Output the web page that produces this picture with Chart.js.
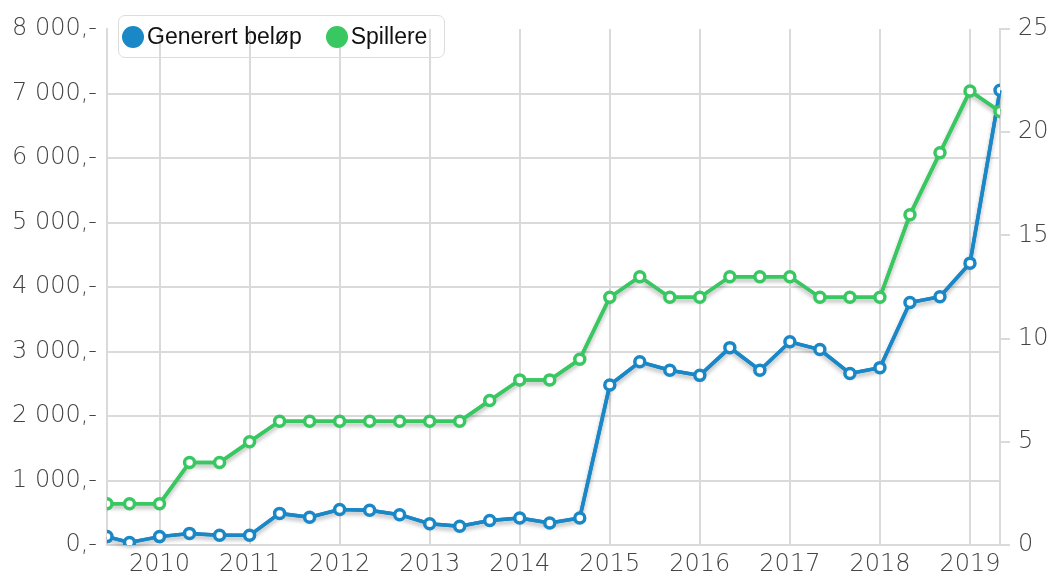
<!DOCTYPE html>
<html>
<head>
<meta charset="utf-8">
<script src="https://cdn.jsdelivr.net/npm/chart.js@4.4.1/dist/chart.umd.min.js"></script>
<style>
  body { margin: 0; background: #fff; }
  #wrap { position: relative; width: 1053px; height: 578px; }
  #legend {
    position: absolute; left: 118px; top: 15px; width: 322px; height: 41px;
    border: 1.5px solid #dcdcdc; border-radius: 7px;
    display: flex; align-items: center; padding-left: 3px; white-space: nowrap;
    font-family: "Liberation Sans", Arial, sans-serif; font-size: 23px; color: #111;
  }
  #legend .item { display: flex; align-items: center; margin-right: 24px; }
  #legend .dot { width: 22px; height: 22px; border-radius: 50%; margin-right: 3px; flex: none; }
</style>
</head>
<body>
<div id="wrap">
  <canvas id="chart" width="1053" height="578"></canvas>
  <div id="legend"></div>
</div>
<script>
// periods (year-month) of each data point
const periods = ['2009-06', '2009-09',
  '2010-01', '2010-05', '2010-09', '2011-01', '2011-05', '2011-09',
  '2012-01', '2012-05', '2012-09', '2013-01', '2013-05', '2013-09',
  '2014-01', '2014-05', '2014-09', '2015-01', '2015-05', '2015-09',
  '2016-01', '2016-05', '2016-09', '2017-01', '2017-05', '2017-09',
  '2018-01', '2018-05', '2018-09', '2019-01', '2019-05'];

// Generert beløp (left axis, kr)
const generert = [130, 40, 130, 180, 150, 150, 490, 430, 550, 540, 470, 330, 290, 380, 420, 340, 420,
  2480, 2840, 2710, 2630, 3060, 2710, 3150, 3030, 2660, 2750, 3760, 3850, 4370, 7050];

// Spillere (right axis)
const spillere = [2, 2, 2, 4, 4, 5, 6, 6, 6, 6, 6, 6, 6, 7, 8, 8, 9,
  12, 13, 12, 12, 13, 13, 13, 12, 12, 12, 16, 19, 22, 21];

const yearTicks = [2010, 2011, 2012, 2013, 2014, 2015, 2016, 2017, 2018, 2019];

const blue = '#1a87c6';
const green = '#38c760';
const gridCol = '#dadada';

function toYear(p) {
  const parts = p.split('-');
  return +parts[0] + (parts[1] - 1) / 12;
}
const xs = periods.map(toYear);

function kr(v) {
  return String(v).replace(/\B(?=(\d{3})+(?!\d))/g, ' ') + ',-';
}

const tickFont = { family: 'DejaVu Sans', size: 24, weight: 200 };

// soft shadow under the lines only (points stay clean)
const shadow = {
  id: 'shadow',
  beforeDatasetDraw(chart, args) {
    const c = chart.ctx;
    const line = args.meta.dataset;
    c.save();
    c.shadowColor = 'rgba(0,0,0,0.3)';
    c.shadowBlur = 4;
    c.shadowOffsetY = 3;
    line.draw(c, chart.chartArea);
    c.restore();
  }
};

const chart = new Chart(document.getElementById('chart'), {
  type: 'line',
  data: {
    datasets: [{
      label: 'Generert beløp',
      data: xs.map((x, i) => ({ x: x, y: generert[i] })),
      yAxisID: 'y',
      borderColor: blue,
      backgroundColor: blue,
      pointBackgroundColor: '#fff',
      borderWidth: 3.5,
      pointRadius: 5,
      pointBorderWidth: 3.5,
      order: 1
    }, {
      label: 'Spillere',
      data: xs.map((x, i) => ({ x: x, y: spillere[i] })),
      yAxisID: 'y1',
      borderColor: green,
      backgroundColor: green,
      pointBackgroundColor: '#fff',
      borderWidth: 3.5,
      pointRadius: 5,
      pointBorderWidth: 3.5,
      order: 0
    }]
  },
  options: {
    responsive: false,
    animation: false,
    devicePixelRatio: 1,
    layout: { padding: { top: 29, left: 0, right: 0, bottom: 0 } },
    plugins: { legend: { display: false }, tooltip: { enabled: false } },
    scales: {
      x: {
        type: 'linear',
        min: toYear(periods[0]),
        max: toYear(periods[periods.length - 1]),
        afterBuildTicks: (axis) => { axis.ticks = yearTicks.map(v => ({ value: v })); },
        afterFit: (s) => { s.height = 33; },
        grid: { color: gridCol, lineWidth: 2, drawTicks: false },
        border: { color: gridCol, width: 2 },
        ticks: { font: tickFont, color: '#444', padding: 5, maxRotation: 0, callback: v => String(v) }
      },
      y: {
        position: 'left',
        min: 0, max: 8000,
        afterFit: (s) => { s.width = 107; },
        grid: {
          color: (c) => c.tick && c.tick.value === 8000 ? 'rgba(0,0,0,0)' : gridCol,
          lineWidth: 2, drawTicks: false
        },
        border: { color: gridCol, width: 2 },
        ticks: { stepSize: 1000, font: tickFont, color: '#444', padding: 10, callback: v => kr(v) }
      },
      y1: {
        position: 'right',
        min: 0, max: 25,
        afterFit: (s) => { s.width = 53; },
        grid: { drawOnChartArea: false, color: gridCol, lineWidth: 2, tickLength: 10 },
        border: { color: gridCol, width: 2 },
        ticks: { stepSize: 5, font: tickFont, color: '#444', padding: 8 }
      }
    }
  },
  plugins: [shadow]
});

// html legend built from the datasets
const lg = document.getElementById('legend');
chart.data.datasets.forEach(ds => {
  const it = document.createElement('div');
  it.className = 'item';
  const dot = document.createElement('span');
  dot.className = 'dot';
  dot.style.background = ds.borderColor;
  const txt = document.createElement('span');
  txt.textContent = ds.label;
  it.appendChild(dot);
  it.appendChild(txt);
  lg.appendChild(it);
});
</script>
</body>
</html>
